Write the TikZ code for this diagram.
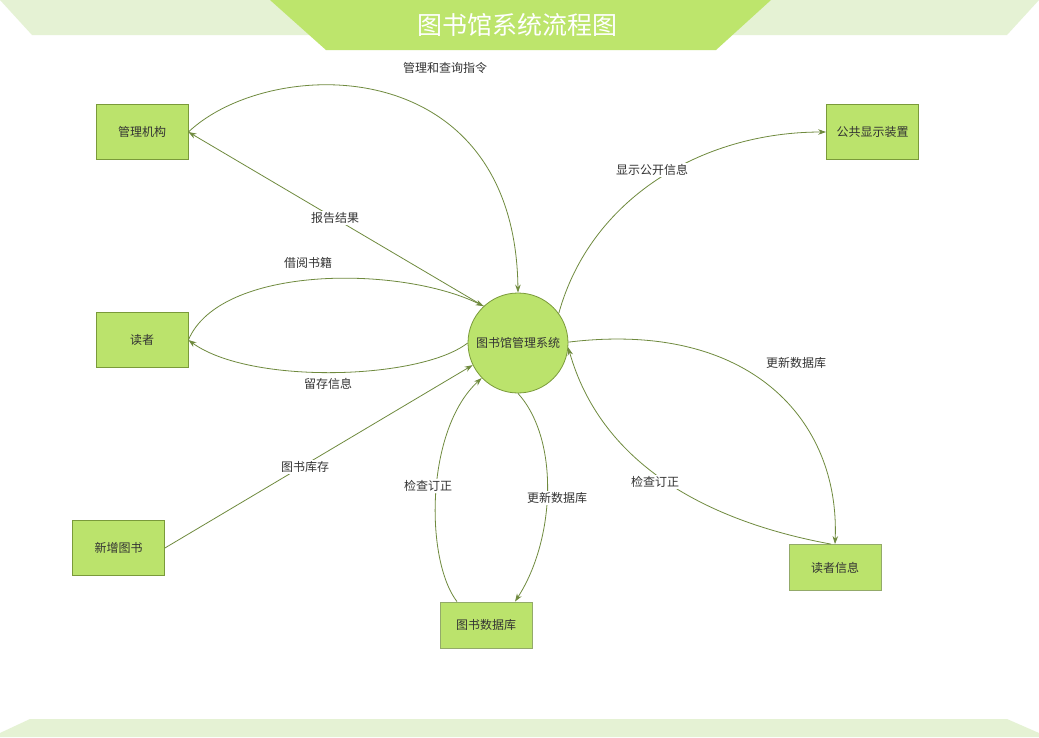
\documentclass[tikz,border=0pt]{standalone}
\usepackage{fontspec}
\setmainfont{Noto Sans CJK SC}
\usetikzlibrary{arrows.meta}
\definecolor{boxfill}{HTML}{BBE36C}
\definecolor{boxline}{HTML}{7A9A3A}
\definecolor{boxline2}{HTML}{93AA6A}
\definecolor{edgecol}{HTML}{6F8A3E}
\definecolor{band}{HTML}{E5F2D4}
\definecolor{bandtop}{HTML}{BDE56C}
\definecolor{txt}{HTML}{333333}
\tikzset{
  box/.style={draw=boxline, fill=boxfill, line width=0.8pt, minimum width=92pt, minimum height=55pt, inner sep=0pt, text=txt, font=\fontsize{12}{14}\selectfont},
  flatbox/.style={box, draw=boxline2, minimum height=46pt},
  proc/.style={circle, draw=boxline, fill=boxfill, line width=0.8pt, minimum size=100pt, inner sep=0pt, text=txt, font=\fontsize{12}{14}\selectfont},
  flow/.style={draw=edgecol, line width=0.8pt, -{Stealth[length=8pt,width=5.5pt]}},
  lbl/.style={fill=white, inner sep=1.5pt, text=txt, font=\fontsize{12}{14}\selectfont}
}
\begin{document}
\begin{tikzpicture}[x=1pt,y=-1pt]
\useasboundingbox (0,0) rectangle (1039,737);
\fill[white] (0,0) rectangle (1039,737);
% header
\fill[band] (0,0) -- (1039,0) -- (1007,35) -- (32,35) -- cycle;
\fill[bandtop] (270,0) -- (771,0) -- (716,50) -- (326,50) -- cycle;
\node[text=white, font=\fontsize{25}{28}\selectfont] (title) at (517,25) {图书馆系统流程图};
% footer
\fill[band] (0,737) -- (0,733) -- (30,719) -- (1007,719) -- (1039,733) -- (1039,737) -- cycle;
% nodes
\node[proc] (c) at (518,343) {图书馆管理系统};
\node[box] (m) at (142,132) {管理机构};
\node[box] (d) at (142,340) {读者};
\node[box] (n) at (118.5,548) {新增图书};
\node[flatbox] (db) at (486,625) {图书数据库};
\node[flatbox] (r) at (835,567.5) {读者信息};
\node[box] (p) at (872.5,132) {公共显示装置};
% edges
\draw[flow] (m.east) .. controls (270,55) and (515,50) .. (c.north);
\draw[flow] (c.133) -- (m.east);
\draw[flow] (d.east) .. controls (220,265) and (400,265) .. (c.133);
\draw[flow] (c.180) .. controls (420,380) and (250,385) .. (d.east);
\draw[flow] (n.east) -- (c.206);
\draw[flow] ([xshift=-29pt]db.north) .. controls (425,560) and (425,430) .. (c.224);
\draw[flow] (c.270) .. controls (560,440) and (555,540) .. ([xshift=29pt]db.north);
\draw[flow] (c.36) .. controls (590,200) and (700,132) .. (p.west);
\draw[flow] (c.1) .. controls (750,320) and (840,420) .. (r.north);
\draw[flow] ([xshift=-4pt]r.north) .. controls (700,520) and (600,460) .. (c.355);
% labels
\node[lbl] (l1) at (445,68) {管理和查询指令};
\node[lbl] (l2) at (335,218) {报告结果};
\node[lbl] (l3) at (308,263) {借阅书籍};
\node[lbl] (l4) at (328,384) {留存信息};
\node[lbl] (l5) at (305,467) {图书库存};
\node[lbl] (l6) at (428,486) {检查订正};
\node[lbl] (l7) at (557,498) {更新数据库};
\node[lbl] (l8) at (652,170) {显示公开信息};
\node[lbl] (l9) at (796,363) {更新数据库};
\node[lbl] (l10) at (655,482) {检查订正};
\end{tikzpicture}
\end{document}
